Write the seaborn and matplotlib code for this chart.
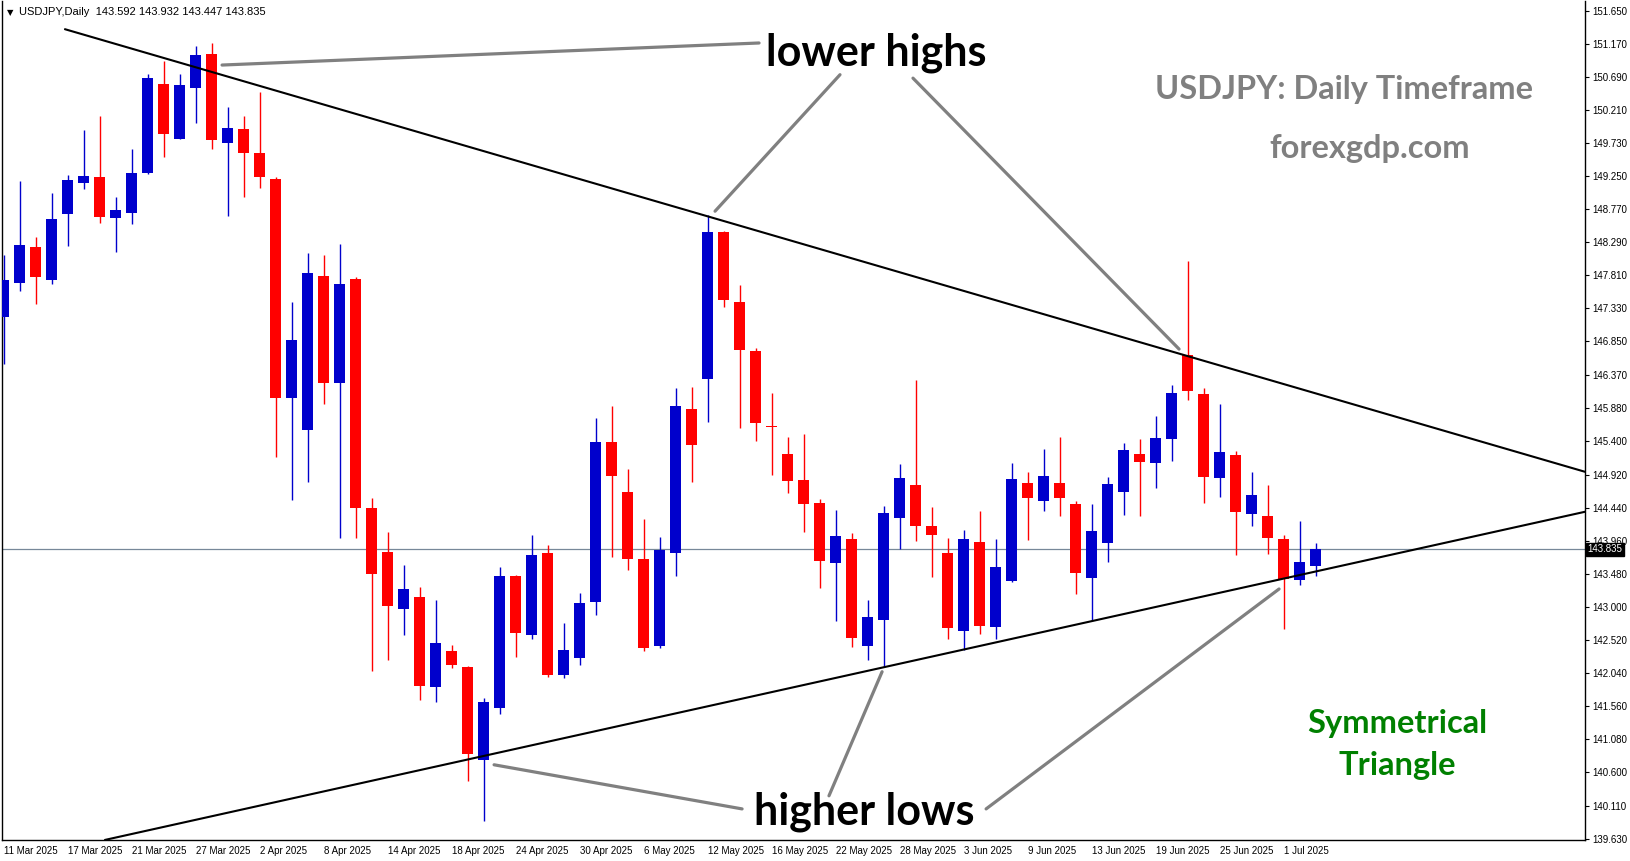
import numpy as np
import pandas as pd
import matplotlib
matplotlib.use("Agg")
import matplotlib.pyplot as plt
import matplotlib.transforms as mtransforms
import seaborn as sns

# Daily bars, 11 Mar 2025 .. 3 Jul 2025
dates = pd.bdate_range("2025-03-11", "2025-07-03")

opens = [147.20, 147.70, 148.22, 147.74, 148.70, 149.15, 149.24, 148.64, 148.71, 149.29,
         150.59, 149.79, 150.53, 151.02, 149.73, 149.93, 149.58, 149.21, 146.03, 145.57,
         147.80, 146.25, 147.76, 144.43, 143.80, 142.97, 143.14, 141.84, 142.36, 142.13,
         140.78, 141.53, 143.45, 142.59, 143.78, 142.01, 142.26, 143.07, 145.39, 144.67,
         143.69, 142.43, 143.78, 145.87, 146.31, 148.44, 147.42, 146.71, 145.63, 145.22,
         144.84, 144.51, 143.64, 143.98, 142.43, 142.81, 144.29, 144.77, 144.17, 143.78,
         142.65, 143.94, 142.71, 143.38, 144.80, 144.54, 144.80, 144.49, 143.42, 143.93,
         144.67, 145.22, 145.09, 145.44, 146.65, 146.09, 144.87, 145.20, 144.35, 144.32,
         143.98, 143.39, 143.592]
highs = [148.10, 149.18, 148.37, 149.00, 149.26, 149.92, 150.12, 148.95, 149.64, 150.73,
         150.92, 150.73, 151.14, 151.18, 150.25, 150.12, 150.47, 149.24, 147.42, 148.13,
         148.10, 148.26, 147.78, 144.58, 144.09, 143.61, 143.29, 143.10, 142.45, 142.15,
         141.68, 143.58, 143.47, 144.04, 143.90, 142.77, 143.20, 145.74, 145.91, 145.00,
         144.27, 144.01, 146.18, 146.19, 148.68, 148.46, 147.67, 146.76, 146.10, 145.46,
         145.51, 144.56, 144.41, 144.07, 143.10, 144.46, 145.07, 146.29, 144.45, 144.00,
         144.12, 144.39, 143.98, 145.09, 144.96, 145.29, 145.46, 144.54, 144.49, 144.88,
         145.38, 145.44, 145.77, 146.22, 148.02, 146.18, 145.94, 145.26, 144.96, 144.77,
         144.04, 144.25, 143.932]
lows = [146.52, 147.58, 147.39, 147.68, 148.24, 149.06, 148.57, 148.15, 148.55, 149.28,
        149.53, 149.79, 150.02, 149.64, 148.67, 148.95, 149.08, 145.17, 144.55, 144.81,
        145.94, 144.00, 144.00, 142.07, 142.23, 142.59, 141.65, 141.62, 142.11, 140.47,
        139.89, 141.45, 142.27, 142.53, 141.98, 141.97, 142.16, 142.88, 143.72, 143.54,
        142.36, 142.40, 143.45, 144.81, 145.68, 147.35, 145.60, 145.41, 144.91, 144.65,
        144.09, 143.27, 142.80, 142.42, 142.23, 142.13, 143.84, 143.95, 143.43, 142.53,
        142.38, 142.61, 142.53, 143.36, 143.97, 144.39, 144.32, 143.19, 142.80, 143.65,
        144.33, 144.32, 144.73, 145.12, 146.00, 144.51, 144.59, 143.75, 144.17, 143.77,
        142.68, 143.32, 143.447]
closes = [147.74, 148.25, 147.79, 148.63, 149.19, 149.25, 148.66, 148.76, 149.29, 150.67,
          149.86, 150.57, 151.01, 149.77, 149.95, 149.58, 149.24, 146.03, 146.87, 147.84,
          146.25, 147.68, 144.43, 143.48, 143.01, 143.26, 141.85, 142.48, 142.16, 140.87,
          141.62, 143.45, 142.62, 143.75, 142.01, 142.38, 143.06, 145.39, 144.90, 143.69,
          142.40, 143.83, 145.91, 145.35, 148.44, 147.45, 146.73, 145.67, 145.61, 144.83,
          144.49, 143.67, 144.03, 142.55, 142.85, 144.36, 144.87, 144.17, 144.04, 142.69,
          143.98, 142.72, 143.58, 144.86, 144.58, 144.90, 144.58, 143.49, 144.10, 144.78,
          145.28, 145.10, 145.45, 146.10, 146.13, 144.88, 145.25, 144.38, 144.62, 144.00,
          143.40, 143.65, 143.835]

price_ticks = [151.650, 151.170, 150.690, 150.210, 149.730, 149.250, 148.770, 148.290,
               147.810, 147.330, 146.850, 146.370, 145.880, 145.400, 144.920, 144.440,
               143.960, 143.480, 143.000, 142.520, 142.040, 141.560, 141.080, 140.600,
               140.110, 139.630]
last_price = 143.835

# trendlines (bar index, price)
upper_line = ([3.84, 98.84], [151.38, 144.96])
lower_line = ([6.34, 98.84], [139.62, 144.38])
# grey pointer lines
pointers = [
    ([13.66, 47.22], [150.86, 151.18]),
    ([44.47, 52.28], [148.74, 150.72]),
    ([56.84, 73.47], [150.67, 146.74]),
    ([30.66, 46.16], [140.71, 140.07]),
    ([54.91, 51.59], [142.06, 140.26]),
    ([61.41, 79.72], [140.07, 143.26]),
]

df = pd.DataFrame({"date": dates, "open": opens, "high": highs, "low": lows, "close": closes})
df["x"] = np.arange(len(df))
df["up"] = df["close"] >= df["open"]

sns.set_style("white")
plt.rcParams["font.family"] = ["Liberation Sans", "DejaVu Sans"]

BLUE = "#0000CC"
RED = "#FF0000"

fig = plt.figure(figsize=(16.31, 8.61), dpi=100)
ax = fig.add_axes([2.5 / 1631, 21 / 861, (1585 - 2.5) / 1631, 839 / 861])

colors = np.where(df["up"], BLUE, RED)
ax.vlines(df["x"], df["low"], df["high"], colors=colors, lw=1.0, zorder=2)
body_lo = np.minimum(df["open"], df["close"])
body_h = np.maximum((df["close"] - df["open"]).abs(), 0.015)
ax.bar(df["x"], body_h, bottom=body_lo, width=0.69, color=colors, lw=0, zorder=3)

# current price line
ax.axhline(last_price, color="#778899", lw=0.9, zorder=1)

# trendlines
for xs, ys in [upper_line, lower_line]:
    sns.lineplot(x=xs, y=ys, ax=ax, color="black", lw=1.5, zorder=4, legend=False)
for xs, ys in pointers:
    sns.lineplot(x=xs, y=ys, ax=ax, color="#808080", lw=2.3, zorder=4, legend=False)

ax.set_xlim(-0.0625, 98.84)
ax.set_ylim(139.619, 151.789)

# axes styling
for side in ["left", "right", "bottom"]:
    ax.spines[side].set_color("black")
    ax.spines[side].set_linewidth(1.0)
ax.spines["top"].set_visible(False)

ax.yaxis.tick_right()
ax.set_yticks(price_ticks)
ax.set_yticklabels([f"{v:.3f}" for v in price_ticks])
ax.tick_params(axis="y", direction="out", length=3, width=0.8, pad=2, labelsize=7, colors="black")

xt = df["x"][::4]
ax.set_xticks(xt)
ax.set_xticklabels([f"{d.day} {d:%b %Y}" for d in df["date"][::4]], ha="left")
ax.tick_params(axis="x", direction="out", length=3, width=0.8, pad=1.5, labelsize=7, colors="black")
ax.set_xlabel("")
ax.set_ylabel("")
ax.grid(False)

# price tag on the axis
trans = mtransforms.blended_transform_factory(ax.transAxes, ax.transData)
ax.text(1.0015, last_price, f"{last_price:.3f}", transform=trans, ha="left", va="center",
        fontsize=7, color="white", zorder=6,
        bbox=dict(boxstyle="square,pad=0.15", fc="black", ec="black"))

# header
ax.text(0.003, 0.992, "\u25bc", transform=ax.transAxes, fontsize=6, va="top", ha="left",
        family="DejaVu Sans", color="black")
ax.text(0.0105, 0.993, "USDJPY,Daily  143.592 143.932 143.447 143.835", transform=ax.transAxes,
        fontsize=8, va="top", ha="left", color="black")

# annotations
big = dict(family=["Lato", "DejaVu Sans"], fontweight="bold", ha="center", va="baseline")
ax.text(54.53, 150.85, "lower highs", fontsize=31, color="black", zorder=5, **big)
ax.text(53.8, 139.84, "higher lows", fontsize=31, color="black", zorder=5, **big)
ax.text(83.8, 150.37, "USDJPY: Daily Timeframe", fontsize=23.4, color="#808080", zorder=5, **big)
ax.text(85.4, 149.51, "forexgdp.com", fontsize=23.5, color="#808080", zorder=5, **big)
ax.text(87.1, 141.17, "Symmetrical", fontsize=23.5, color="#008000", zorder=5, **big)
ax.text(87.1, 140.56, "Triangle", fontsize=23.5, color="#008000", zorder=5, **big)

fig.savefig("out.png", dpi=100, facecolor="white")
